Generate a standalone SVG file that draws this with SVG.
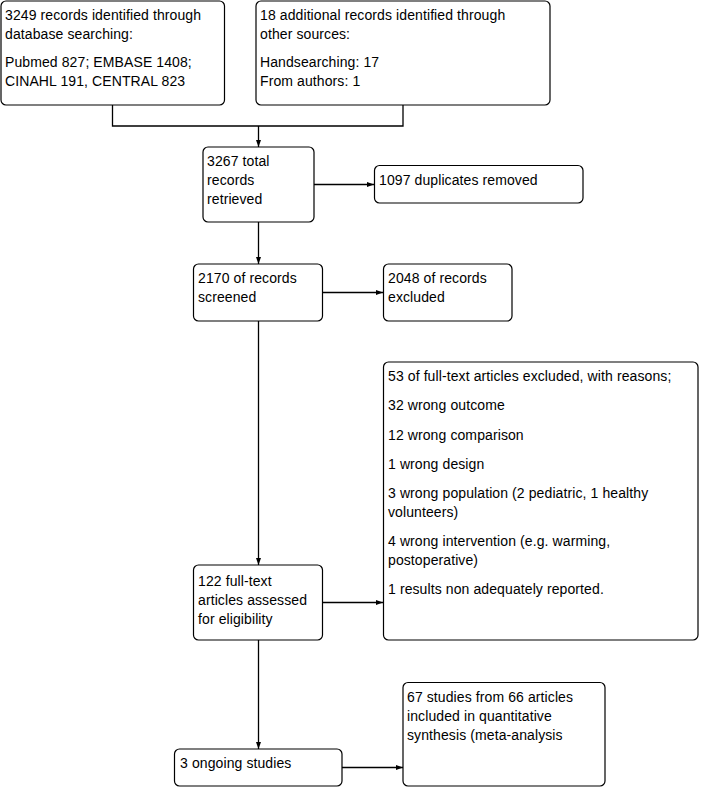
<svg xmlns="http://www.w3.org/2000/svg" width="701" height="787" viewBox="0 0 701 787">
<style>
.box{fill:#fff;stroke:#000;stroke-width:1.2}
.ln{fill:none;stroke:#000;stroke-width:1.3}
text{font-family:"Liberation Sans",Arial,sans-serif;font-size:14px;fill:#000;letter-spacing:0.1px}
</style>
<defs>
<marker id="ah" markerUnits="userSpaceOnUse" markerWidth="7" markerHeight="6" refX="7" refY="3" orient="auto">
<path d="M0,0.5 L7,3 L0,5.5 z" fill="#000"/>
</marker>
</defs>
<rect width="701" height="787" fill="#fff"/>
<g id="connectors">
<path class="ln" d="M112.5,105 V126 H403 V105"/>
<path class="ln" d="M258.5,126 V147" marker-end="url(#ah)"/>
<path class="ln" d="M314,184.5 H374" marker-end="url(#ah)"/>
<path class="ln" d="M258.5,222 V264" marker-end="url(#ah)"/>
<path class="ln" d="M323,292.5 H383" marker-end="url(#ah)"/>
<path class="ln" d="M258.5,321 V565" marker-end="url(#ah)"/>
<path class="ln" d="M323,602.5 H383" marker-end="url(#ah)"/>
<path class="ln" d="M258.5,640 V749" marker-end="url(#ah)"/>
<path class="ln" d="M342,767.5 H403" marker-end="url(#ah)"/>
</g>
<g id="n1">
<rect class="box" x="1" y="1" width="223.5" height="104" rx="5"/>
<text x="5" y="20">3249 records identified through</text>
<text x="5" y="39">database searching:</text>
<text x="5" y="67">Pubmed 827; EMBASE 1408;</text>
<text x="5" y="86">CINAHL 191, CENTRAL 823</text>
</g>
<g id="n2">
<rect class="box" x="256" y="1" width="294" height="104" rx="5"/>
<text x="260" y="20">18 additional records identified through</text>
<text x="260" y="39">other sources:</text>
<text x="260" y="67">Handsearching: 17</text>
<text x="260" y="86">From authors: 1</text>
</g>
<g id="n3">
<rect class="box" x="203" y="147" width="111" height="75" rx="5"/>
<text x="207" y="166">3267 total</text>
<text x="207" y="185">records</text>
<text x="207" y="204">retrieved</text>
</g>
<g id="n4">
<rect class="box" x="374.5" y="165.5" width="208.5" height="37.5" rx="5"/>
<text x="379" y="185">1097 duplicates removed</text>
</g>
<g id="n5">
<rect class="box" x="193.5" y="264" width="129" height="57" rx="5"/>
<text x="198" y="283">2170 of records</text>
<text x="198" y="302">screened</text>
</g>
<g id="n6">
<rect class="box" x="383.5" y="264" width="128.5" height="57" rx="5"/>
<text x="388" y="283">2048 of records</text>
<text x="388" y="302">excluded</text>
</g>
<g id="n7">
<rect class="box" x="383.5" y="362" width="314.5" height="278" rx="5"/>
<text x="388" y="381">53 of full-text articles excluded, with reasons;</text>
<text x="388" y="410">32 wrong outcome</text>
<text x="388" y="439.5">12 wrong comparison</text>
<text x="388" y="469">1 wrong design</text>
<text x="388" y="498">3 wrong population (2 pediatric, 1 healthy</text>
<text x="388" y="517">volunteers)</text>
<text x="388" y="546">4 wrong intervention (e.g. warming,</text>
<text x="388" y="565">postoperative)</text>
<text x="388" y="594">1 results non adequately reported.</text>
</g>
<g id="n8">
<rect class="box" x="193.5" y="565" width="129" height="75" rx="5"/>
<text x="198" y="585.5">122 full-text</text>
<text x="198" y="604.5">articles assessed</text>
<text x="198" y="623.5">for eligibility</text>
</g>
<g id="n9">
<rect class="box" x="174.5" y="749" width="167.5" height="37" rx="5"/>
<text x="180" y="768">3 ongoing studies</text>
</g>
<g id="n10">
<rect class="box" x="403" y="682.5" width="202" height="103.5" rx="5"/>
<text x="407" y="702">67 studies from 66 articles</text>
<text x="407" y="721">included in quantitative</text>
<text x="407" y="740">synthesis (meta-analysis</text>
</g>
</svg>
